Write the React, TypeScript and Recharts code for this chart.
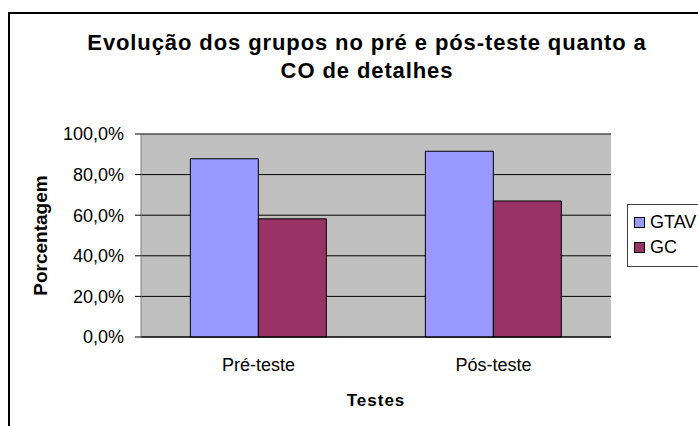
import React from "react";
import {
  BarChart,
  Bar,
  XAxis,
  YAxis,
  CartesianGrid,
  Legend,
} from "recharts";

// values (percent)
const categories = ["Pré-teste", "Pós-teste"];
const gtav = [87.8, 91.5];
const gc = [58.2, 67.0];
const yTicks = [0, 20, 40, 60, 80, 100];
const seriesNames = ["GTAV", "GC"];
const seriesColors = ["#9999FF", "#993366"];

const data = categories.map((c, i) => ({ name: c, GTAV: gtav[i], GC: gc[i] }));

const FONT = "'Liberation Sans', Arial, sans-serif";

const fmtPct = (v: number) => `${v.toFixed(1).replace(".", ",")}%`;

function LegendBox() {
  return (
    <div
      style={{
        border: "1px solid #404040",
        background: "#fff",
        padding: "5px 20px 6px 6px",
        fontFamily: FONT,
        fontSize: 18,
        color: "#000",
      }}
    >
      {seriesNames.map((n, i) => (
        <div key={n} style={{ display: "flex", alignItems: "center", height: 25 }}>
          <span
            style={{
              display: "inline-block",
              width: 9,
              height: 9,
              border: "1px solid #000",
              background: seriesColors[i],
              marginRight: 5,
            }}
          />
          {n}
        </div>
      ))}
    </div>
  );
}

export default function App() {
  return (
    <div
      style={{
        position: "absolute",
        left: 0,
        top: 0,
        width: 698,
        height: 426,
        overflow: "hidden",
        background: "#fff",
        fontFamily: FONT,
      }}
    >
      <div
        style={{
          position: "absolute",
          left: 8,
          top: 12,
          width: 760,
          height: 480,
          border: "2px solid #000",
        }}
      />
      <div
        style={{
          position: "absolute",
          left: 0,
          top: 29,
          width: 734,
          textAlign: "center",
          fontSize: 22,
          fontWeight: "bold",
          letterSpacing: "0.9px",
          lineHeight: "28px",
          color: "#000",
        }}
      >
        Evolução dos grupos no pré e pós-teste quanto a
        <br />
        CO de detalhes
      </div>
      <div style={{ position: "absolute", left: 0, top: 0 }}>
        <BarChart
          width={698}
          height={426}
          data={data}
          margin={{ top: 134, right: 87, bottom: 14, left: 31 }}
          barCategoryGap="21%"
          barGap={0}
        >
          <CartesianGrid vertical={false} stroke="#000" fill="#C0C0C0" />
          <XAxis
            xAxisId="b"
            type="number"
            domain={[0, 2]}
            ticks={[0, 1, 2]}
            tickFormatter={() => ""}
            height={0}
            axisLine={false}
            tickSize={6}
            tickLine={{ stroke: "#000" }}
          />
          <XAxis
            dataKey="name"
            height={75}
            tickLine={false}
            tickSize={0}
            tickMargin={21}
            axisLine={{ stroke: "#000" }}
            tick={{ fill: "#000", fontSize: 18, fontFamily: FONT }}
            label={{
              value: "Testes",
              position: "insideBottom",
              offset: 6,
              fill: "#000",
              fontSize: 17,
              fontWeight: "bold",
              fontFamily: FONT,
              letterSpacing: 1,
            }}
          />
          <YAxis
            domain={[0, 100]}
            ticks={yTicks}
            width={110}
            tickFormatter={fmtPct}
            tickSize={6}
            tickMargin={11}
            axisLine={{ stroke: "#808080" }}
            tickLine={{ stroke: "#000" }}
            tick={{ fill: "#000", fontSize: 18, fontFamily: FONT }}
            label={{
              value: "Porcentagem",
              angle: -90,
              position: "insideLeft",
              offset: 9,
              fill: "#000",
              fontSize: 19,
              fontWeight: "bold",
              fontFamily: FONT,
              style: { textAnchor: "middle" },
            }}
          />
          <YAxis
            yAxisId="r"
            orientation="right"
            domain={[0, 1]}
            width={0}
            tick={false}
            tickLine={false}
            axisLine={{ stroke: "#808080" }}
          />
          <Legend
            layout="vertical"
            align="center"
            verticalAlign="middle"
            wrapperStyle={{ left: 627, top: 204, width: "auto", height: "auto" }}
            content={() => <LegendBox />}
          />
          {seriesNames.map((n, i) => (
            <Bar
              key={n}
              dataKey={n}
              fill={seriesColors[i]}
              stroke="#000"
              strokeWidth={1}
              isAnimationActive={false}
            />
          ))}
        </BarChart>
      </div>
    </div>
  );
}
